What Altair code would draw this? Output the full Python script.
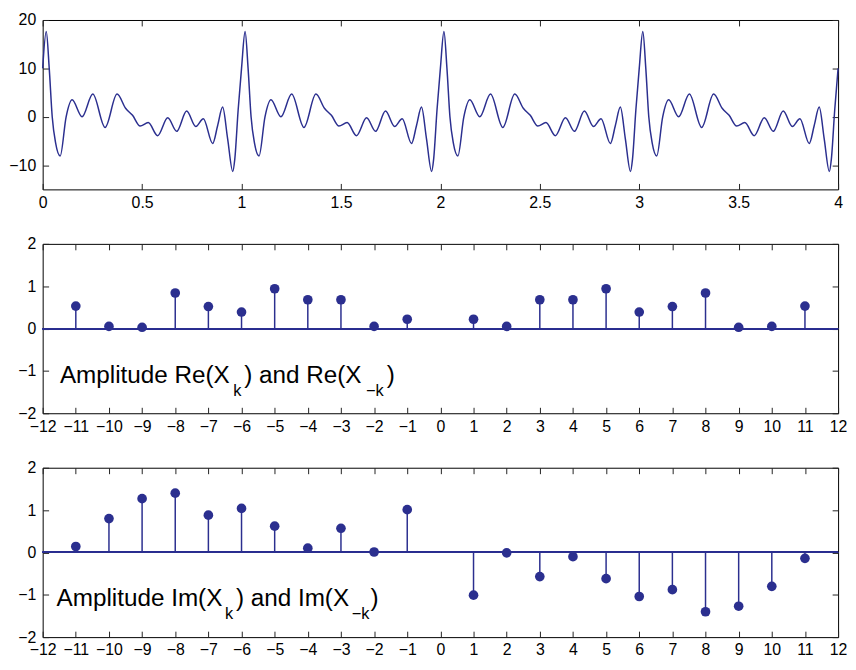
import altair as alt
import pandas as pd

# ---- top panel: one period of the signal (it repeats every 1.0)
period_t = [0.000, 0.018, 0.033, 0.048, 0.065, 0.088, 0.118, 0.148, 0.198, 0.252,
            0.314, 0.374, 0.418, 0.452, 0.490, 0.531, 0.578, 0.629, 0.674, 0.724,
            0.770, 0.808, 0.855, 0.880, 0.905, 0.930, 0.956, 0.966, 0.983]
period_v = [10.0, 17.6, 10.0, 0.0, -5.4, -8.1, 0.0, 3.5, 0.0, 4.7,
            -2.2, 4.7, 1.7, 0.3, -1.9, -1.2, -3.9, -0.2, -3.0, 1.2,
            -2.0, -0.4, -5.5, -1.8, 2.0, -4.5, -11.3, -8.8, 1.4]
n_periods = 4
t_vals = [round(p + i, 3) for i in range(n_periods) for p in period_t] + [4.0]
s_vals = period_v * n_periods + [period_v[0]]

# ---- stem panels
k_vals = list(range(-11, 0)) + list(range(1, 12))
re_vals = [0.53, 0.05, 0.03, 0.84, 0.52, 0.39, 0.94, 0.68, 0.68, 0.05, 0.22,
           0.22, 0.05, 0.68, 0.68, 0.94, 0.39, 0.52, 0.84, 0.03, 0.05, 0.53]
im_vals = [0.14, 0.80, 1.27, 1.40, 0.88, 1.04, 0.62, 0.10, 0.57, 0.01, 1.01,
           -1.01, -0.01, -0.57, -0.10, -0.62, -1.04, -0.88, -1.40, -1.27, -0.80, -0.14]

top_ticks_x = [0, 0.5, 1, 1.5, 2, 2.5, 3, 3.5, 4]
top_ticks_y = [-10, 0, 10, 20]
stem_ticks_x = list(range(-12, 13))
stem_ticks_y = [-2, -1, 0, 1, 2]

re_label = ["Amplitude Re(X", "k", ") and Re(X", "\u2212k", ")"]
im_label = ["Amplitude Im(X", "k", ") and Im(X", "\u2212k", ")"]

COLOR = "#2b2f8f"
FONT = "Liberation Sans"
TICK = 6
W = 803


def axis(orient, values, labels=True, fmt=None):
    pad = 5 if orient in ("bottom", "top") else 7
    kw = dict(orient=orient, values=values, title=None, domain=False, grid=False,
              tickSize=TICK, offset=-TICK, tickColor="#222222", tickWidth=1,
              labels=labels, labelFont=FONT, labelFontSize=16, labelColor="black",
              labelPadding=pad, labelFlush=False, labelOverlap=False)
    if fmt:
        kw["format"] = fmt
    return alt.Axis(**kw)


# top panel
sig = pd.DataFrame({"t": t_vals, "s": s_vals})
xs_top = alt.Scale(domain=[0, 4], nice=False, zero=False)
ys_top = alt.Scale(domain=[-15, 20], nice=False, zero=False)
line = alt.Chart(sig).mark_line(color=COLOR, strokeWidth=1.5, interpolate="monotone").encode(
    x=alt.X("t:Q", scale=xs_top, axis=axis("bottom", top_ticks_x, fmt="~g")),
    y=alt.Y("s:Q", scale=ys_top, axis=axis("left", top_ticks_y)),
)
mirror_top = alt.Chart(sig).mark_line(opacity=0).encode(
    x=alt.X("t:Q", scale=xs_top, axis=axis("top", top_ticks_x, labels=False)),
    y=alt.Y("s:Q", scale=ys_top, axis=axis("right", top_ticks_y, labels=False)),
)
top = alt.layer(line, mirror_top).resolve_axis(x="independent", y="independent").properties(
    width=W, height=171)


def stem_panel(vals, pieces, ax_x, ax_y, offsets):
    df = pd.DataFrame({"k": k_vals, "v": vals})
    xs = alt.Scale(domain=[-12, 12], nice=False, zero=False)
    ys = alt.Scale(domain=[-2, 2], nice=False, zero=False)
    base = alt.Chart(df)
    baseline = base.mark_rule(color=COLOR, strokeWidth=1.2).encode(
        y=alt.YDatum(0, scale=ys, axis=None))
    stems = base.mark_rule(color=COLOR, strokeWidth=1.5).encode(
        x=alt.X("k:Q", scale=xs, axis=axis("bottom", stem_ticks_x)),
        y=alt.Y("v:Q", scale=ys, axis=axis("left", stem_ticks_y)),
        y2=alt.Y2Datum(0),
    )
    dots = base.mark_circle(color=COLOR, size=95, opacity=1).encode(
        x=alt.X("k:Q", scale=xs, axis=None),
        y=alt.Y("v:Q", scale=ys, axis=None),
    )
    mirror = base.mark_circle(opacity=0).encode(
        x=alt.X("k:Q", scale=xs, axis=axis("top", stem_ticks_x, labels=False)),
        y=alt.Y("v:Q", scale=ys, axis=axis("right", stem_ticks_y, labels=False)),
    )
    anchor = pd.DataFrame({"x": [ax_x], "y": [ax_y]})
    texts = []
    for txt, (dx, dy, fs) in zip(pieces, offsets):
        texts.append(alt.Chart(anchor).mark_text(
            text=txt, align="left", baseline="alphabetic", dx=dx, dy=dy,
            font=FONT, fontSize=fs, color="black").encode(
            x=alt.X("x:Q", scale=xs, axis=None),
            y=alt.Y("y:Q", scale=ys, axis=None)))
    return alt.layer(baseline, stems, dots, *texts, mirror).resolve_axis(
        x="independent", y="independent").properties(width=W, height=171)


re_off = [(0, 0, 24.5), (175, 13, 16.5), (186, 0, 24.5), (309, 13, 16.5), (330, 0, 24.5)]
im_off = [(0, 0, 24.5), (170, 13, 16.5), (181, 0, 24.5), (298, 13, 16.5), (317, 0, 24.5)]

mid = stem_panel(re_vals, re_label, -11.48, -1.29, re_off)
bot = stem_panel(im_vals, im_label, -11.58, -1.27, im_off)

chart = alt.vconcat(top, mid, bot, spacing=55, bounds="flush").properties(
    padding={"left": 0, "right": 0, "top": 0, "bottom": 0},
    background="white",
).configure_view(stroke="black", strokeWidth=1)

chart.save("out.html", embed_options={"renderer": "svg", "actions": False})
